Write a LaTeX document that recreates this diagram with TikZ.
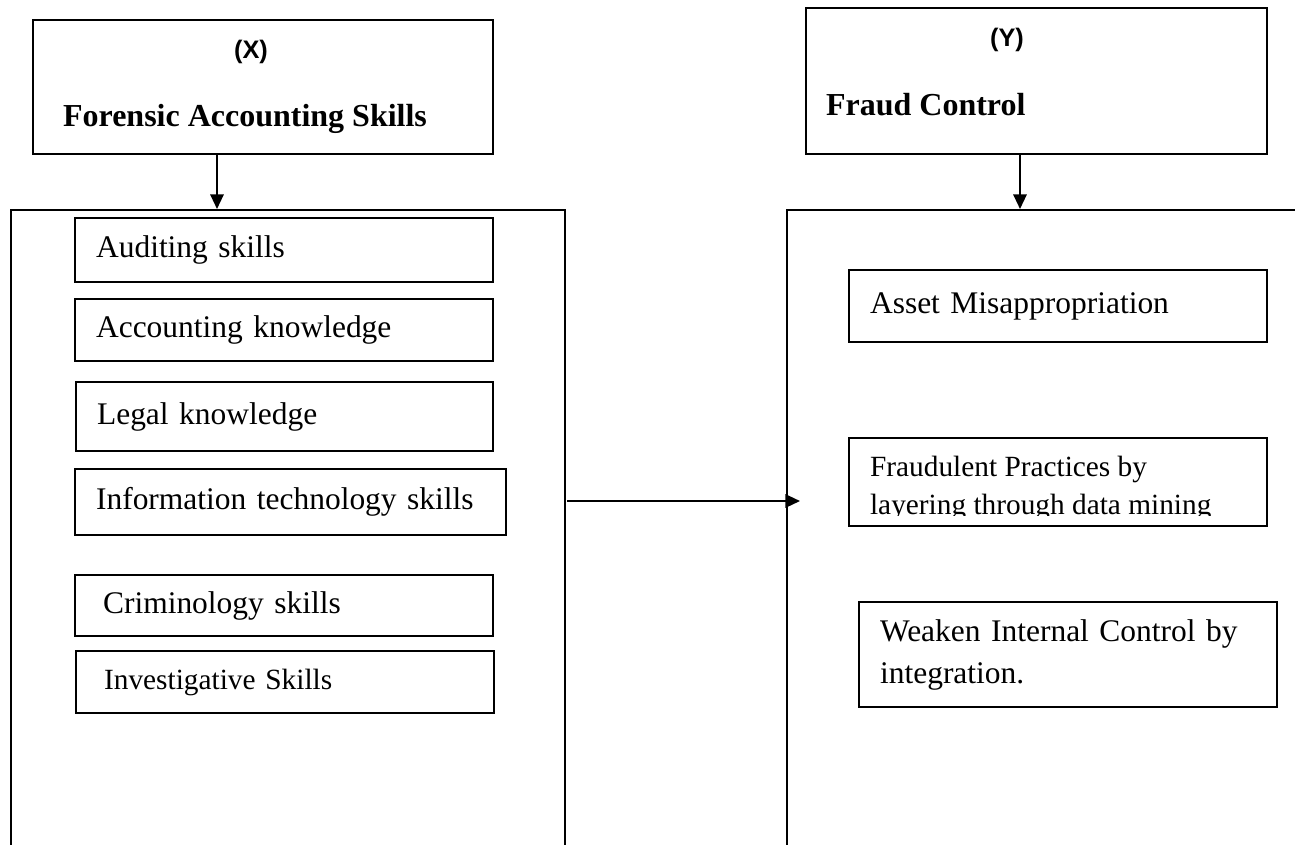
\documentclass[tikz,border=0pt]{standalone}
\usepackage{fontspec}
\setmainfont{Liberation Serif}
\newfontfamily\labelfont{Liberation Sans}
\usetikzlibrary{arrows.meta}

\begin{document}
\begin{tikzpicture}[x=0.375pt, y=-0.375pt, thick, >={Triangle[length=5.5pt,width=5pt]},
    main/.style = {draw, rectangle, anchor=north west, inner sep=0pt},
    item/.style = {main, align=left, inner xsep=7.875pt, font=\fontsize{11.8}{15.75}\selectfont},
    tag/.style = {font=\labelfont\bfseries\fontsize{9.5}{11}\selectfont, inner sep=0pt},
    title/.style = {anchor=west, inner sep=0pt, font=\bfseries\fontsize{12}{14}\selectfont}]
        \useasboundingbox (0,0) rectangle (1295,844);
        % top boxes
        \node[main, minimum width=172.5pt, minimum height=50.25pt] (xbox) at (32,19) {};
        \node[tag] (xtag) at (251,52) {(X)};
        \node[title] (xtitle) at (62,119) {Forensic Accounting Skills};
        \node[main, minimum width=172.9pt, minimum height=54.75pt] (ybox) at (805,7) {};
        \node[tag] (ytag) at (1007,40) {(Y)};
        \node[title] (ytitle) at (825,105) {Fraud Control};
        % panels
        \node[main, minimum width=207.75pt, minimum height=262.5pt] (lpanel) at (10,209) {};
        \node[main, minimum width=204pt, minimum height=262.5pt] (rpanel) at (786,209) {};
        % skills
        \node[item, text width=141pt, minimum height=24pt] (aud) at (74,217) {Auditing skills};
        \node[item, text width=141pt, minimum height=23.25pt] (acc) at (74,298) {Accounting knowledge};
        \node[item, text width=140.6pt, minimum height=25.875pt] (leg) at (75,381) {Legal knowledge};
        \node[item, text width=145.9pt, minimum height=24.75pt] (it) at (74,468) {Information technology skills};
        \node[item, inner xsep=10.5pt, text width=135.75pt, minimum height=22.875pt] (crim) at (74,574) {Criminology skills};
        \node[item, inner xsep=10.5pt, text width=135.75pt, minimum height=23.25pt, font=\fontsize{11}{13}\selectfont] (inv) at (75,650) {Investigative Skills};
        % fraud control
        \node[item, text width=141pt, minimum height=27pt] (asset) at (848,269) {Asset Misappropriation};
        \node[main, minimum width=156.75pt, minimum height=33pt] (fp) at (848,437) {};
        \begin{scope}
            \clip (848,437) rectangle (1266,515);
            \node[anchor=west, align=left, inner sep=0pt, font=\fontsize{11}{14.25}\selectfont] (fptext) at (869,488) {Fraudulent Practices by\\layering through data mining};
        \end{scope}
        \node[item, text width=141pt, minimum height=39.375pt] (wic) at (858,601) {Weaken Internal Control by\\integration.};
        % arrows
        \coordinate (xa) at (217,153);
        \coordinate (ya) at (1020,155);
        \coordinate (mid) at (567,501);
        \coordinate (hend) at (800,501);
        \draw[->] (xa) -- (xa |- lpanel.north);
        \draw[->] (ya) -- (ya |- rpanel.north);
        \draw[->] (mid) -- (hend);
    \end{tikzpicture}
\end{document}
